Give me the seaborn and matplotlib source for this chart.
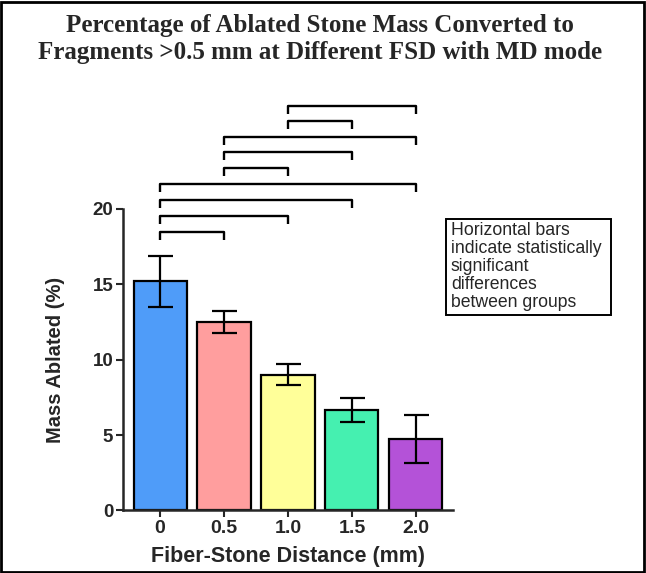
import matplotlib
matplotlib.use("Agg")
import matplotlib.pyplot as plt
import numpy as np
import pandas as pd
import seaborn as sb
from matplotlib.patches import Rectangle

# values
distances = ["0", "0.5", "1.0", "1.5", "2.0"]
mass_ablated = [15.2, 12.5, 9.0, 6.65, 4.75]
mass_sd = [1.7, 0.7, 0.7, 0.8, 1.6]
bar_colors = ["#4f9cf9", "#ff9e9e", "#ffff99", "#45f0b0", "#b452d8"]

# significance brackets: (group a, group b) and bracket height
sig_pairs = [(0, 1), (0, 2), (0, 3), (0, 4), (1, 2), (1, 3), (1, 4), (2, 3), (2, 4)]
sig_heights = [18.5, 19.55, 20.6, 21.65, 22.75, 23.8, 24.8, 25.85, 26.85]

sb.set_style("ticks")
plt.rcParams["font.family"] = ["Liberation Sans", "DejaVu Sans"]

df = pd.DataFrame({"distance": distances, "mass": mass_ablated, "sd": mass_sd})

fig = plt.figure(figsize=(6.46, 5.73), dpi=100)
ax = fig.add_axes([0.1904, 0.1091, 0.5108, 0.5262])

sb.barplot(
    data=df, x="distance", y="mass", hue="distance", order=distances,
    palette=bar_colors, saturation=1, errorbar=None, width=0.83,
    edgecolor="black", linewidth=1.6, legend=False, ax=ax,
)
ax.errorbar(
    np.arange(len(distances)), df["mass"], yerr=df["sd"], fmt="none",
    ecolor="black", elinewidth=1.6, capsize=9, capthick=1.6, zorder=5,
)

# significance brackets above the plot
drop = 0.55
for (a, b), h in zip(sig_pairs, sig_heights):
    ax.plot([a, a, b, b], [h - drop, h, h, h - drop], color="black",
            lw=1.7, clip_on=False, solid_capstyle="butt")

ax.set_xlim(-0.58, 4.58)
ax.set_ylim(0, 20)
ax.set_yticks([0, 5, 10, 15, 20])
sb.despine(ax=ax)
ax.spines["left"].set_linewidth(1.8)
ax.spines["bottom"].set_linewidth(1.8)
ax.tick_params(direction="out", length=5, width=1.5, pad=2)
for lab in ax.get_yticklabels():
    lab.set_fontweight("bold")
    lab.set_fontsize(13.5)
for lab in ax.get_xticklabels():
    lab.set_fontweight("bold")
    lab.set_fontsize(14)

ax.set_xlabel("Fiber-Stone Distance (mm)", fontsize=15.5, fontweight="bold", labelpad=6)
ax.set_ylabel("Mass Ablated (%)", fontsize=14.5, fontweight="bold", labelpad=20)

fig.text(0.496, 0.975, "Percentage of Ablated Stone Mass Converted to\n"
         "Fragments >0.5 mm at Different FSD with MD mode",
         ha="center", va="top", fontsize=18, fontweight="bold",
         family="Liberation Serif", linespacing=1.22)

# note box
fig.patches.append(Rectangle((0.690, 0.4503), 0.2554, 0.1675, transform=fig.transFigure,
                             fill=False, edgecolor="black", lw=1.4))
fig.text(0.698, 0.613, "Horizontal bars\nindicate statistically\nsignificant\n"
         "differences\nbetween groups", ha="left", va="top", fontsize=12.7,
         linespacing=1.08)

# frame around the whole picture
fig.patches.append(Rectangle((0.002, 0.002), 0.995, 0.995, transform=fig.transFigure,
                             fill=False, edgecolor="black", lw=2))

fig.savefig("out.png", dpi=100)
